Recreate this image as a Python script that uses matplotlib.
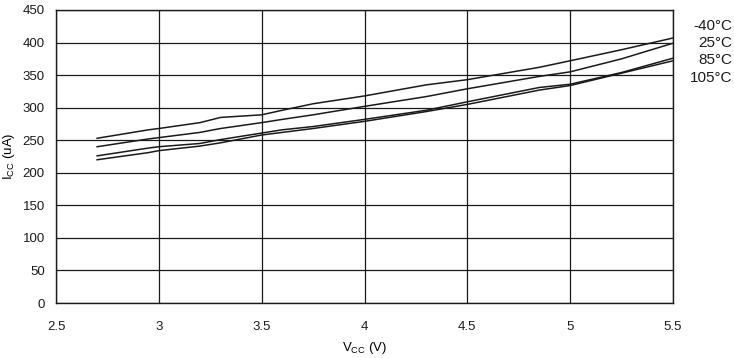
import matplotlib
matplotlib.use('Agg')
import matplotlib.pyplot as plt

plt.rcParams['font.family'] = ['Liberation Sans', 'DejaVu Sans']
plt.rcParams['mathtext.fontset'] = 'custom'
plt.rcParams['mathtext.rm'] = 'Liberation Sans'

# supply voltage (V)
vcc = [2.7, 2.95, 3.0, 3.2, 3.3, 3.5, 3.6, 3.75, 4.0, 4.3, 4.5, 4.85, 5.0, 5.25, 5.5]

# supply current (uA) per temperature
icc_m40 = [253, 266, 268, 277, 285, 289, 296, 306, 318, 335, 343, 362, 372, 389, 407]
icc_25 = [240, 252, 254, 262, 268, 277, 282, 289, 302, 317, 329, 348, 355, 375, 399]
icc_85 = [226, 238, 240, 245, 251, 261, 266, 271, 282, 296, 309, 331, 336, 354, 376]
icc_105 = [220, 231, 234, 241, 246, 258, 262, 268, 279, 294, 305, 327, 334, 353, 372]

temp_labels = ['-40°C', '25°C', '85°C', '105°C']
x_ticks = [2.5, 3, 3.5, 4, 4.5, 5, 5.5]
x_ticklabels = ['2.5', '3', '3.5', '4', '4.5', '5', '5.5']
y_ticks = list(range(0, 451, 50))


def icc_plot():
    W, H = 734, 358
    fig = plt.figure(figsize=(W / 100, H / 100), dpi=100)
    ax = fig.add_axes([56 / W, 1 - 303 / H, (673 - 56) / W, (303 - 10) / H])

    for series in (icc_m40, icc_25, icc_85, icc_105):
        ax.plot(vcc, series, color='#1a1a1a', linewidth=1.1, zorder=3)

    ax.set_xlim(2.5, 5.5)
    ax.set_ylim(0, 450)
    ax.set_xticks(x_ticks)
    ax.set_xticklabels(x_ticklabels)
    ax.set_yticks(y_ticks)
    ax.grid(True, color='#1a1a1a', linewidth=0.9)
    ax.tick_params(length=0, labelsize=9.5, colors='#1a1a1a')
    ax.tick_params(axis='x', pad=13)
    ax.tick_params(axis='y', pad=8)
    for sp in ax.spines.values():
        sp.set_color('#1a1a1a')
        sp.set_linewidth(1.0)

    ax.set_xlabel(r'V$_{\mathregular{CC}}$ (V)', fontsize=9.5, labelpad=5)
    ax.set_ylabel(r'I$_{\mathregular{CC}}$ (uA)', fontsize=9.5, labelpad=4)

    label_y = [26, 43, 60, 78]
    for txt, py in zip(temp_labels, label_y):
        fig.text(732 / W, 1 - py / H, txt, ha='right', va='center',
                 fontsize=11, color='#1a1a1a')

    fig.savefig('out.png', dpi=100)


if __name__ == '__main__':
    icc_plot()
